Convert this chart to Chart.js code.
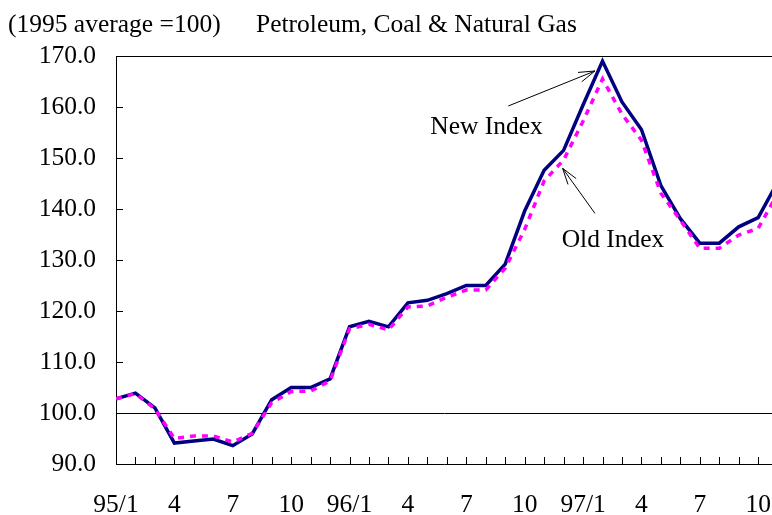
<!DOCTYPE html>
<html><head><meta charset="utf-8">
<script src="https://cdn.jsdelivr.net/npm/chart.js@4/dist/chart.umd.min.js"></script>
<style>html,body{margin:0;padding:0;background:#fff;overflow:hidden}canvas{display:block}</style>
</head><body>
<canvas id="c" width="772" height="515"></canvas>
<script>
// ---- data ----
const months = ['95/1','95/2','95/3','95/4','95/5','95/6','95/7','95/8','95/9','95/10','95/11','95/12',
                '96/1','96/2','96/3','96/4','96/5','96/6','96/7','96/8','96/9','96/10','96/11','96/12',
                '97/1','97/2','97/3','97/4','97/5','97/6','97/7','97/8','97/9','97/10','97/11'];
const xTickLabels = ['95/1','4','7','10','96/1','4','7','10','97/1','4','7','10'];
const yTicks = [90,100,110,120,130,140,150,160,170];
const newIndex = [102.8,103.9,101.0,94.1,94.5,94.9,93.6,95.9,102.6,105.0,105.0,106.7,
                  116.9,118.0,116.9,121.6,122.1,123.4,125.0,125.0,129.2,139.6,147.6,151.5,
                  160.4,169.0,161.0,155.6,144.6,138.1,133.3,133.3,136.5,138.3,145.3];
const oldIndex = [102.8,103.8,100.8,95.0,95.5,95.5,94.3,96.0,102.0,104.2,104.3,106.3,
                  116.5,117.4,116.3,120.8,121.0,122.7,124.1,124.1,128.4,136.0,145.5,149.6,
                  157.2,165.5,158.6,153.5,143.1,137.8,132.3,132.3,134.9,136.2,143.0];
const seriesNames = ['New Index','Old Index'];
const titleLeft = '(1995 average =100)';
const titleRight = 'Petroleum, Coal & Natural Gas';

// annotation anchors in data units
const notes = [
  {text: seriesNames[0], label:{x:16.15,y:154.7}, tail:{x:20.16,y:160.2}, tip:{x:24.61,y:167.06}},
  {text: seriesNames[1], label:{x:22.90,y:132.6}, tail:{x:24.61,y:139.16}, tip:{x:22.95,y:147.98}}
];

const FONT = "'Liberation Serif','Times New Roman',serif";
const FS = 25.5;

const decor = {
  id:'decor',
  beforeDatasetsDraw(chart){
    const {ctx, chartArea:a, scales:{x,y}} = chart;
    ctx.save();
    ctx.strokeStyle='#000'; ctx.lineWidth=1;
    ctx.beginPath();
    const ty = Math.round(a.top)+0.5;
    ctx.moveTo(a.left, ty); ctx.lineTo(a.right, ty);
    yTicks.forEach(v=>{
      const py = Math.round(y.getPixelForValue(v))+0.5;
      ctx.moveTo(a.left, py); ctx.lineTo(a.left+7, py);
    });
    for(let i=1;i<months.length;i++){
      const px = Math.round(x.getPixelForValue(i))+0.5;
      if(px>a.right) break;
      ctx.moveTo(px, a.bottom); ctx.lineTo(px, a.bottom-7);
    }
    ctx.stroke();
    ctx.restore();
  },
  afterDraw(chart){
    const {ctx, scales:{x,y}} = chart;
    ctx.save();
    ctx.fillStyle='#000';
    ctx.font = FS+'px '+FONT;
    ctx.textBaseline='alphabetic';
    ctx.textAlign='left';
    ctx.fillText(titleLeft, 8, 32);
    ctx.fillText(titleRight, 256, 32);
    ctx.strokeStyle='#000'; ctx.lineWidth=1;
    notes.forEach(n=>{
      ctx.fillText(n.text, x.getPixelForValue(n.label.x), y.getPixelForValue(n.label.y));
      const x1=x.getPixelForValue(n.tail.x), y1=y.getPixelForValue(n.tail.y);
      const x2=x.getPixelForValue(n.tip.x), y2=y.getPixelForValue(n.tip.y);
      const ang=Math.atan2(y2-y1,x2-x1), L=17, h=0.30;
      ctx.beginPath();
      ctx.moveTo(x1,y1); ctx.lineTo(x2,y2);
      ctx.moveTo(x2-L*Math.cos(ang-h), y2-L*Math.sin(ang-h)); ctx.lineTo(x2,y2);
      ctx.lineTo(x2-L*Math.cos(ang+h), y2-L*Math.sin(ang+h));
      ctx.stroke();
    });
    ctx.restore();
  }
};

new Chart(document.getElementById('c'), {
  type:'line',
  data:{
    datasets:[
      {label:seriesNames[1], data: oldIndex.map((v,i)=>({x:i,y:v})), borderColor:'#FF00FF',
       borderWidth:3.5, borderDash:[6,6], borderCapStyle:'butt', pointRadius:0, tension:0, fill:false},
      {label:seriesNames[0], data: newIndex.map((v,i)=>({x:i,y:v})), borderColor:'#000080',
       borderWidth:3.5, pointRadius:0, tension:0, fill:false, borderJoinStyle:'miter'}
    ]
  },
  options:{
    responsive:false, animation:false, devicePixelRatio:1,
    layout:{padding:{top:56,left:0,right:0,bottom:0}},
    plugins:{legend:{display:false}, tooltip:{enabled:false}, title:{display:false}},
    scales:{
      x:{type:'linear', min:0, max:33.71,
         afterFit(s){ s.height = 51; s.paddingRight = 0; s.paddingLeft = 0; },
         grid:{display:true, drawOnChartArea:false, drawTicks:false, color:'rgba(0,0,0,0)'},
         border:{display:true, color:'#000', width:1},
         ticks:{stepSize:1, autoSkip:false, maxRotation:0, includeBounds:false, padding:26,
                color:'#000', font:{family:FONT, size:FS},
                callback:(v)=> (Number.isInteger(v) && v%3===0) ? (xTickLabels[v/3]||'') : ''}},
      y:{min:90, max:170,
         afterFit(s){ s.width = 116; s.paddingTop = 0; s.paddingBottom = 0; },
         grid:{drawTicks:false, lineWidth:1, color:(c)=> (c.tick && c.tick.value===100) ? '#000' : 'rgba(0,0,0,0)'},
         border:{display:true, color:'#000', width:1},
         ticks:{stepSize:10, padding:20, color:'#000', font:{family:FONT, size:FS},
                callback:(v)=> v.toFixed(1)}}
    }
  },
  plugins:[decor]
});
</script>
</body></html>
